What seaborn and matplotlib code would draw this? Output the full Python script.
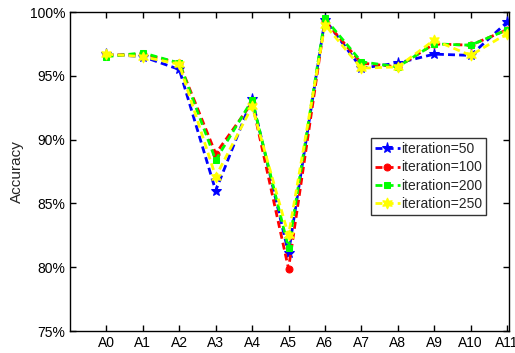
import matplotlib
matplotlib.use("Agg")
import matplotlib.pyplot as plt
import seaborn as sns
import pandas as pd

categories = ["A0", "A1", "A2", "A3", "A4", "A5", "A6", "A7", "A8", "A9", "A10", "A11"]
iter50 = [96.7, 96.5, 95.5, 86.0, 93.2, 81.1, 99.4, 95.6, 96.0, 96.7, 96.6, 99.2]
iter100 = [96.6, 96.7, 96.0, 88.9, 92.9, 79.9, 99.3, 96.0, 95.7, 97.5, 97.4, 98.6]
iter200 = [96.5, 96.8, 96.0, 88.4, 93.1, 81.5, 99.5, 96.1, 95.7, 97.5, 97.4, 98.6]
iter250 = [96.7, 96.5, 95.9, 87.1, 92.6, 82.5, 99.0, 95.6, 95.7, 97.8, 96.6, 98.3]
labels = ["iteration=50", "iteration=100", "iteration=200", "iteration=250"]
yticks = [75, 80, 85, 90, 95, 100]
ytick_labels = ["75%", "80%", "85%", "90%", "95%", "100%"]

sns.set_style("ticks")
plt.rcParams["font.family"] = ["Liberation Sans", "DejaVu Sans"]

fig = plt.figure(figsize=(5.15, 3.53), dpi=100)
ax = fig.add_axes([0.136, 0.062, 0.852, 0.904])

series = [iter50, iter100, iter200, iter250]
colors = [(0, 0, 1), (1, 0, 0), (0, 1, 0), (1, 1, 0)]
markers = ["*", "o", "s", (6, 1, 0)]
msizes = [8, 5, 5, 8]
x = list(range(len(categories)))
for vals, c, m, ms, lab in zip(series, colors, markers, msizes, labels):
    df = pd.DataFrame({"x": x, "y": vals})
    sns.lineplot(data=df, x="x", y="y", ax=ax, color=c, linestyle="--", linewidth=2,
                 marker=m, markersize=ms, markeredgecolor=c, markerfacecolor=c,
                 label=lab, dashes=False)
    ax.lines[-1].set_linestyle((0, (2.5, 1.5)))

ax.set_xlim(-1, 11.05)
ax.set_ylim(75, 100)
ax.set_xticks(x)
ax.set_xticklabels(categories, fontsize=10)
ax.set_yticks(yticks)
ax.set_yticklabels(ytick_labels, fontsize=10)
ax.set_xlabel("")
ax.set_ylabel("Accuracy", fontsize=11)
ax.tick_params(direction="in", top=True, right=True, length=4, width=1, colors="black")
for s in ax.spines.values():
    s.set_visible(True)
    s.set_color("black")
    s.set_linewidth(1)

leg = ax.legend(loc="upper left", bbox_to_anchor=(0.685, 0.605), fontsize=10,
                frameon=True, fancybox=False, edgecolor="black", handlelength=1.8,
                handletextpad=0.1, borderpad=0.3, labelspacing=0.3, borderaxespad=0)
leg.get_frame().set_linewidth(1)

fig.savefig("out.png", dpi=100)
